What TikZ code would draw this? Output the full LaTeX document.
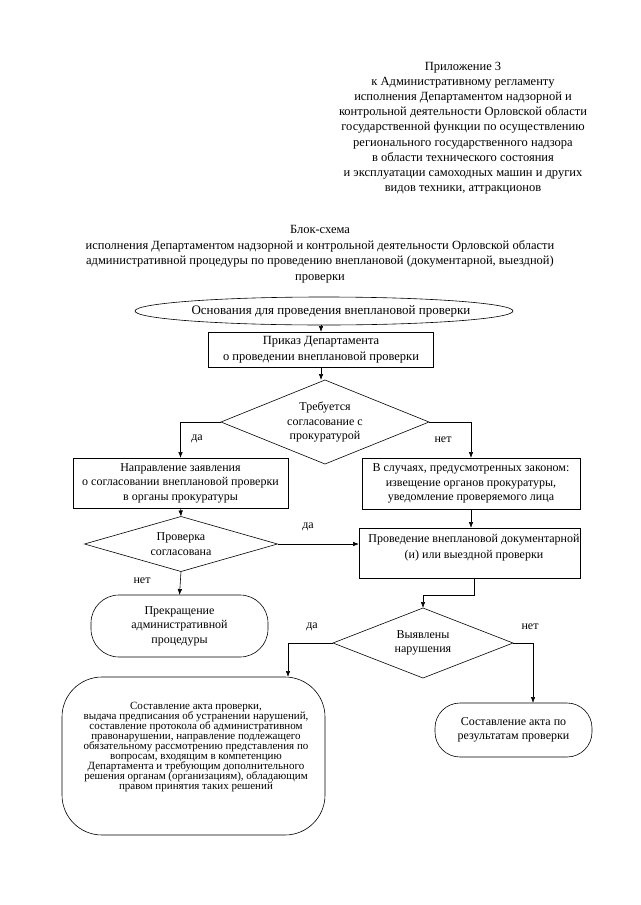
\documentclass[tikz,border=0pt]{standalone}
\usepackage{fontspec}
\setmainfont{Liberation Serif}
\usetikzlibrary{shapes.geometric,arrows.meta}
\newcommand\mytightlines{\fontsize{11}{9.9}\selectfont\lineskiplimit=-6pt\relax\lineskip=0pt\relax}
\begin{document}
\begin{tikzpicture}[x=1pt,y=-1pt,
  every node/.style={inner sep=0pt,outer sep=0pt},
  arr/.style={line width=0.6pt,-{Latex[length=6pt,width=4.5pt]}},
  boxst/.style={draw,line width=0.6pt,rectangle,align=center},
  dia/.style={draw,line width=0.6pt,diamond,align=center},
  main/.style={font=\fontsize{12}{14.5}\selectfont},
  lbl/.style={font=\fontsize{12}{14}\selectfont}]
\useasboundingbox (0,0) rectangle (640,905);
% header
\node[align=center,font=\fontsize{12.5}{15.2}\selectfont] (hdr) at (463,128)
 {Приложение 3\\к Административному регламенту\\исполнения Департаментом надзорной и\\контрольной деятельности Орловской области\\государственной функции по осуществлению\\регионального государственного надзора\\в области технического состояния\\и эксплуатации самоходных машин и других\\видов техники, аттракционов};
\node[align=center,font=\fontsize{12.5}{15.5}\selectfont] (ttl) at (320,254)
 {Блок-схема\\исполнения Департаментом надзорной и контрольной деятельности Орловской области\\административной процедуры по проведению внеплановой (документарной, выездной)\\проверки};
% flow
\node[draw,line width=0.6pt,ellipse,minimum width=378,minimum height=28] (ell) at (324,311) {};
\node[font=\fontsize{13}{15}\selectfont] (ellt) at (331,311)
 {Основания для проведения внеплановой проверки};
\node[boxst,minimum width=225,minimum height=35,font=\fontsize{12.5}{16}\selectfont] (b1) at (321,349.5)
 {Приказ Департамента\\о проведении внеплановой проверки};
\node[dia,aspect=2.48,minimum width=208,minimum height=84,main] (d1) at (325,422)
 {Требуется\\согласование с\\прокуратурой};
\node[boxst,minimum width=215,minimum height=50,main] (bl) at (180.5,483)
 {Направление заявления\\о согласовании внеплановой проверки\\в органы прокуратуры};
\node[boxst,minimum width=218,minimum height=51,main] (br) at (471,483.5)
 {В случаях, предусмотренных законом:\\извещение органов прокуратуры,\\уведомление проверяемого лица};
\node[dia,aspect=3.5,minimum width=193,minimum height=55,main] (d2) at (181,544)
 {Проверка\\согласована};
\node[boxst,minimum width=221,minimum height=50] (b2) at (469.5,553) {};
\node[align=center,font=\fontsize{12}{16}\selectfont] (b2t) at (474,548)
 {Проведение внеплановой документарной\\(и) или выездной проверки};
\node[boxst,rounded corners=28,minimum width=177,minimum height=62,main] (term) at (179.5,626)
 {Прекращение\\административной\\процедуры};
\node[dia,aspect=2.57,minimum width=180,minimum height=70,main] (d3) at (423,643)
 {Выявлены\\нарушения};
\node[boxst,rounded corners=40,minimum width=263,minimum height=158] (big) at (193.5,756) {};
\node[align=center,font=\mytightlines] (bigt) at (196,747)
 {Составление акта проверки,\\выдача предписания об устранении нарушений,\\составление протокола об административном\\правонарушении, направление подлежащего\\обязательному рассмотрению представления по\\вопросам, входящим в компетенцию\\Департамента и требующим дополнительного\\решения органам (организациям), обладающим\\правом принятия таких решений};
\node[boxst,rounded corners=25,minimum width=157,minimum height=54,main] (small) at (513.5,730)
 {Составление акта по\\результатам проверки};
% connectors
\draw[arr] (b1.north |- ell.south) -- (b1.north);
\draw[arr] (b1.south) -- (b1.south |- d1.north);
\draw[arr] (d1.west) -| (bl.north);
\draw[arr] (d1.east) -| (br.north);
\draw[arr] (bl.south) -- (d2.north);
\draw[arr] (br.south) -- (br.south |- b2.north);
\draw[arr] (d2.east) -- (d2.east -| b2.west);
\draw[arr] (d2.south) -- (term.north);
\draw[arr] ([xshift=4.5]b2.south) -- ++(0,17) -| (d3.north);
\draw[arr] (d3.west) -| ([xshift=94.5]big.north);
\draw[arr] (d3.east) -| ([xshift=19.5]small.north);
% labels
\node[lbl] (l1) at (197,439) {да};
\node[lbl] (l2) at (443,440) {нет};
\node[lbl] (l3) at (308,527) {да};
\node[lbl] (l4) at (142,581) {нет};
\node[lbl] (l5) at (312,627) {да};
\node[lbl] (l6) at (530,627) {нет};
\end{tikzpicture}
\end{document}
